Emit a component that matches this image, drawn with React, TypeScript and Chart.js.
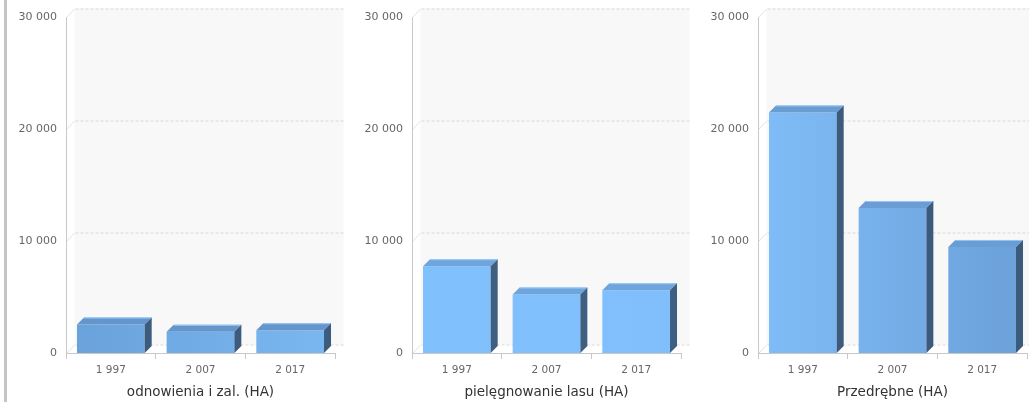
import { useEffect, useRef } from "react";
import { Chart, registerables } from "chart.js";

Chart.register(...registerables);

const categories = ["1 997", "2 007", "2 017"];
const odnowieniaValues = [2540, 1890, 2030];
const pielegnowanieValues = [7740, 5220, 5600];
const przedrebneValues = [21480, 12950, 9470];
const panelTitles = ["odnowienia i zal. (HA)", "pielęgnowanie lasu (HA)", "Przedrębne (HA)"];
const yMin = 0;
const yMax = 30000;
const yStep = 10000;

const PANEL_W = 346;
const PANEL_H = 402;
const WALL_DX = 8.5;
const WALL_DY = 8.5;
const BAR_DX = 7;
const BAR_DY = 7;

type PanelStyle = { frontL: string; frontR: string; top: string; side: string };

const panelStyles: PanelStyle[] = [
  { frontL: "#6aa1da", frontR: "#7ab8f2", top: "#6496cc", side: "#3c5c7e" },
  { frontL: "#80c0fd", frontR: "#80bffb", top: "#6fa5dc", side: "#3f5f82" },
  { frontL: "#80bdf8", frontR: "#6ba0d8", top: "#6a9dd3", side: "#3c5a7c" },
];

const fmt = (v: number) => String(v).replace(/\B(?=(\d{3})+(?!\d))/g, " ");

const wallPlugin = {
  id: "wall3d",
  beforeDatasetsDraw(chart: any) {
    const { ctx, chartArea, scales } = chart;
    const { left, right, top, bottom } = chartArea;
    const y = scales.y;
    ctx.save();
    ctx.fillStyle = "#f8f8f8";
    ctx.fillRect(left + WALL_DX, top - WALL_DY, right - left, bottom - top);
    ctx.lineWidth = 1;
    y.ticks.forEach((t: any) => {
      const py = Math.round(y.getPixelForValue(t.value));
      const by = py - WALL_DY + 0.5;
      ctx.strokeStyle = "#e2e2e2";
      ctx.setLineDash([]);
      ctx.beginPath();
      ctx.moveTo(left + 1, py);
      ctx.lineTo(left + WALL_DX, by);
      ctx.stroke();
      ctx.strokeStyle = "#d8d8d8";
      ctx.setLineDash([3, 2]);
      ctx.beginPath();
      ctx.moveTo(left + WALL_DX + 1, by);
      ctx.lineTo(right + WALL_DX, by);
      ctx.stroke();
    });
    ctx.restore();
  },
};

const barPlugin = {
  id: "bar3d",
  afterDatasetsDraw(chart: any, _args: any, opts: any) {
    const { ctx } = chart;
    const meta = chart.getDatasetMeta(0);
    ctx.save();
    meta.data.forEach((bar: any) => {
      const { x, y, base, width } = bar.getProps(["x", "y", "base", "width"], true);
      const l = x - width / 2;
      const r = x + width / 2;
      // top face
      ctx.fillStyle = opts.top;
      ctx.beginPath();
      ctx.moveTo(l, y);
      ctx.lineTo(l + BAR_DX, y - BAR_DY);
      ctx.lineTo(r + BAR_DX, y - BAR_DY);
      ctx.lineTo(r, y);
      ctx.closePath();
      ctx.fill();
      // highlight on back edge
      ctx.strokeStyle = "rgba(150,205,255,0.9)";
      ctx.lineWidth = 1;
      ctx.beginPath();
      ctx.moveTo(l + BAR_DX, y - BAR_DY + 0.5);
      ctx.lineTo(r + BAR_DX, y - BAR_DY + 0.5);
      ctx.stroke();
      // side face
      ctx.fillStyle = opts.side;
      ctx.beginPath();
      ctx.moveTo(r, y);
      ctx.lineTo(r + BAR_DX, y - BAR_DY);
      ctx.lineTo(r + BAR_DX, base - BAR_DY);
      ctx.lineTo(r, base);
      ctx.closePath();
      ctx.fill();
    });
    ctx.restore();
  },
};

function Panel({ values, title, style, left }: { values: number[]; title: string; style: PanelStyle; left: number }) {
  const ref = useRef<HTMLCanvasElement | null>(null);
  useEffect(() => {
    if (!ref.current) return;
    const chart = new Chart(ref.current, {
      type: "bar",
      data: {
        labels: categories,
        datasets: [
          {
            data: values,
            backgroundColor: (c: any) => {
              const ch = c.chart;
              const area = ch.chartArea;
              if (!area) return style.frontL;
              const g = ch.ctx.createLinearGradient(area.left, 0, area.right, 0);
              g.addColorStop(0, style.frontL);
              g.addColorStop(1, style.frontR);
              return g;
            },
            borderWidth: 0,
            barPercentage: 0.755,
            categoryPercentage: 1,
          },
        ],
      },
      options: {
        animation: false,
        responsive: false,
        maintainAspectRatio: false,
        layout: { padding: { left: 0, top: 17, right: 11, bottom: 0 } },
        plugins: {
          legend: { display: false },
          tooltip: { enabled: false },
          title: { display: false },
          bar3d: style,
        } as any,
        scales: {
          x: {
            type: "category",
            offset: true,
            grid: {
              display: true,
              drawOnChartArea: false,
              drawTicks: true,
              tickLength: 6,
              color: "#c8c8c8",
              offset: true,
            },
            border: { display: true, color: "#c8c8c8" },
            ticks: {
              color: "#666666",
              font: { family: "DejaVu Sans", size: 10.5 },
              padding: 4.7,
              maxRotation: 0,
              autoSkip: false,
            },
            title: {
              display: true,
              text: title,
              color: "#333333",
              font: { family: "DejaVu Sans", size: 13.5 },
              padding: { top: 0, bottom: 1 },
            },
            afterFit: (s: any) => {
              s.height = 49;
            },
          },
          y: {
            min: yMin,
            max: yMax,
            grid: { display: false, drawTicks: false },
            border: { display: true, color: "#c8c8c8" },
            ticks: {
              stepSize: yStep,
              color: "#666666",
              font: { family: "DejaVu Sans", size: 11 },
              padding: 9,
              callback: (v: any) => fmt(Number(v)),
            },
            afterFit: (s: any) => {
              s.width = 66;
            },
          },
        },
      },
      plugins: [wallPlugin, barPlugin],
    } as any);
    return () => chart.destroy();
  }, [values, title, style]);
  return (
    <div style={{ position: "absolute", left, top: 0, width: PANEL_W, height: PANEL_H }}>
      <canvas ref={ref} width={PANEL_W} height={PANEL_H} style={{ width: PANEL_W, height: PANEL_H, display: "block" }} />
    </div>
  );
}

const panelValues = [odnowieniaValues, pielegnowanieValues, przedrebneValues];

export default function App() {
  return (
    <div
      style={{
        position: "fixed",
        left: 0,
        top: 0,
        width: 1029,
        height: 402,
        overflow: "hidden",
        background: "#ffffff",
      }}
    >
      {panelValues.map((vals, i) => (
        <Panel key={i} values={vals} title={panelTitles[i]} style={panelStyles[i]} left={i * PANEL_W} />
      ))}
      <div style={{ position: "absolute", left: 4, top: 0, width: 3, height: 402, background: "#c4c4c4" }} />
    </div>
  );
}
